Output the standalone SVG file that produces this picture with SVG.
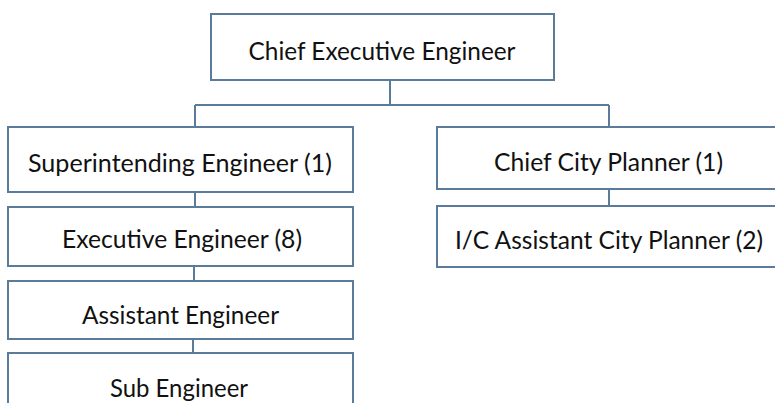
<svg xmlns="http://www.w3.org/2000/svg" width="775" height="403" viewBox="0 0 775 403">
  <style>
    .box { fill: #ffffff; stroke: #5b7b9a; stroke-width: 2; }
    .link { fill: none; stroke: #5b7b9a; stroke-width: 2; }
    .label { font-family: Lato, "Open Sans", "Liberation Sans", sans-serif; font-size: 25px; fill: #111111; text-anchor: middle; }
  </style>
  <rect width="775" height="403" fill="#ffffff"/>

  <!-- connectors -->
  <g id="connectors">
    <path class="link" d="M390 80 V105 M195 105 H609 M195 105 V127 M609 105 V127"/>
    <path class="link" d="M195 192 V207"/>
    <path class="link" d="M194 266 V281"/>
    <path class="link" d="M193 339 V353"/>
    <path class="link" d="M609 189 V206"/>
  </g>

  <g id="chief-executive-engineer">
    <rect class="box" x="211" y="14" width="343" height="66"/>
    <text class="label" x="382" y="60" textLength="267" lengthAdjust="spacingAndGlyphs">Chief Executive Engineer</text>
  </g>

  <g id="superintending-engineer">
    <rect class="box" x="8" y="127" width="345" height="65"/>
    <text class="label" x="180" y="172" textLength="304" lengthAdjust="spacingAndGlyphs">Superintending Engineer (1)</text>
  </g>

  <g id="executive-engineer">
    <rect class="box" x="8" y="207" width="345" height="59"/>
    <text class="label" x="182" y="248" textLength="240" lengthAdjust="spacingAndGlyphs">Executive Engineer (8)</text>
  </g>

  <g id="assistant-engineer">
    <rect class="box" x="8" y="281" width="345" height="58"/>
    <text class="label" x="180.5" y="324" textLength="197" lengthAdjust="spacingAndGlyphs">Assistant Engineer</text>
  </g>

  <g id="sub-engineer">
    <rect class="box" x="8" y="353" width="345" height="62"/>
    <text class="label" x="179" y="397" textLength="138" lengthAdjust="spacingAndGlyphs">Sub Engineer</text>
  </g>

  <g id="chief-city-planner">
    <rect class="box" x="437" y="127" width="343" height="62"/>
    <text class="label" x="608.5" y="171" textLength="229" lengthAdjust="spacingAndGlyphs">Chief City Planner (1)</text>
  </g>

  <g id="assistant-city-planner">
    <rect class="box" x="437" y="206" width="343" height="61"/>
    <text class="label" x="609" y="249" textLength="308" lengthAdjust="spacingAndGlyphs">I/C Assistant City Planner (2)</text>
  </g>
</svg>
